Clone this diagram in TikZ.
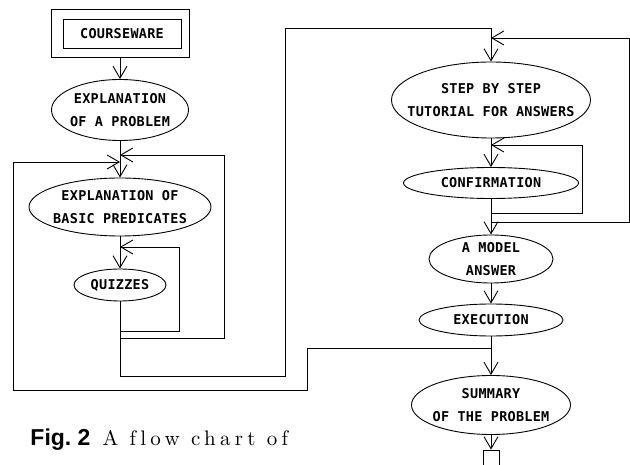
\documentclass[tikz,border=0pt]{standalone}
\usepackage{fontspec}
\usetikzlibrary{arrows.meta,shapes.geometric}
\newfontfamily\plotfont[LetterSpace=2]{DejaVu Sans Mono}
\newfontfamily\figsans{Liberation Sans}
\newfontfamily\figserif[LetterSpace=20.5,Ligatures=NoCommon]{lmroman10-regular.otf}
\begin{document}
\begin{tikzpicture}[x=1pt,y=-1pt,line width=0.9pt,
  >={Straight Barb[length=12pt,width=14pt]},
  box/.style={draw,rectangle,inner sep=0pt},
  oval/.style={draw,ellipse,inner sep=0pt},
  lbl/.style={font=\plotfont\bfseries\fontsize{13.5}{23}\selectfont,align=center,inner sep=0pt}]
\useasboundingbox (0,0) rectangle (630,465);
% left column
\node[box,minimum width=138pt,minimum height=48pt] (cwo) at (120,33) {};
\node[box,minimum width=118pt,minimum height=29pt,lbl] (cw) at (122,33.5) {COURSEWARE};
\node[oval,minimum width=137pt,minimum height=61pt] (e1) at (120,110) {};
\node[lbl] (e1t) at (e1) {EXPLANATION\\OF A PROBLEM};
\node[oval,minimum width=182pt,minimum height=58pt] (e2) at (120,207) {};
\node[lbl] (e2t) at (e2) {EXPLANATION OF\\BASIC PREDICATES};
\node[oval,minimum width=92pt,minimum height=32pt] (quiz) at (120,285) {};
\node[lbl] (quizt) at (quiz) {QUIZZES};
% right column
\node[oval,minimum width=199pt,minimum height=76pt] (step) at (491,100) {};
\node[lbl] (stept) at (step) {STEP BY STEP\\TUTORIAL FOR ANSWERS};
\node[oval,minimum width=175pt,minimum height=31pt] (conf) at (491,183) {};
\node[lbl] (conft) at (conf) {CONFIRMATION};
\node[oval,minimum width=124pt,minimum height=48pt] (model) at (491,259) {};
\node[lbl] (modelt) at (model) {A MODEL\\ANSWER};
\node[oval,minimum width=144pt,minimum height=32pt] (exec) at (491,320) {};
\node[lbl] (exect) at (exec) {EXECUTION};
\node[oval,minimum width=159pt,minimum height=59pt] (summ) at (491,405) {};
\node[lbl] (summt) at (summ) {SUMMARY\\OF THE PROBLEM};
\node[box,minimum width=16pt,minimum height=22pt] (fin) at (491,461) {};
% coordinates
\coordinate (j1) at (120,155);
\coordinate (j3) at (120,162);
\coordinate (j2) at (120,247);
\coordinate (q1) at (120,331);
\coordinate (q2) at (120,338);
\coordinate (q3) at (120,376);
\coordinate (la) at (179,247);
\coordinate (lb) at (224,155);
\coordinate (lc) at (285,376);
\coordinate (ld) at (285,28);
\coordinate (le) at (491,28);
\coordinate (r1) at (491,38);
\coordinate (r2) at (491,222);
\coordinate (rc1) at (629,38);
\coordinate (r4) at (491,145);
\coordinate (r3) at (491,213);
\coordinate (rc2) at (582,145);
\coordinate (r5) at (491,348);
\coordinate (m1) at (307,390);
\coordinate (m2) at (13,162);
% connectors
\draw[->] (cwo.south) -- (e1.north);
\draw[->] (e1.south) -- (e2.north);
\draw[->] (e2.south) -- (quiz.north);
\draw[->] (quiz.south) -- (q3) -- (lc) -- (ld) -- (le) -- (step.north);
\draw[->] (q1) -| (la) -- (j2);
\draw[->] (q2) -| (lb) -- (j1);
\draw[->] (r5) -| (m1) -| (m2) -- (j3);
\draw[->] (r2) -| (rc1) -- (r1);
\draw[->] (r3) -| (rc2) -- (r4);
\draw[->] (step.south) -- (conf.north);
\draw[->] (conf.south) -- (model.north);
\draw[->] (model.south) -- (exec.north);
\draw[->] (exec.south) -- (summ.north);
\draw[->] (summ.south) -- (fin.north);
% caption
\node[anchor=base west,inner sep=0pt] (cap) at (30,446) {{\figsans\bfseries\fontsize{23}{27}\selectfont Fig.~2}\hspace{12pt}{\figserif\fontsize{21}{25}\selectfont A flow chart of}};
\end{tikzpicture}
\end{document}
